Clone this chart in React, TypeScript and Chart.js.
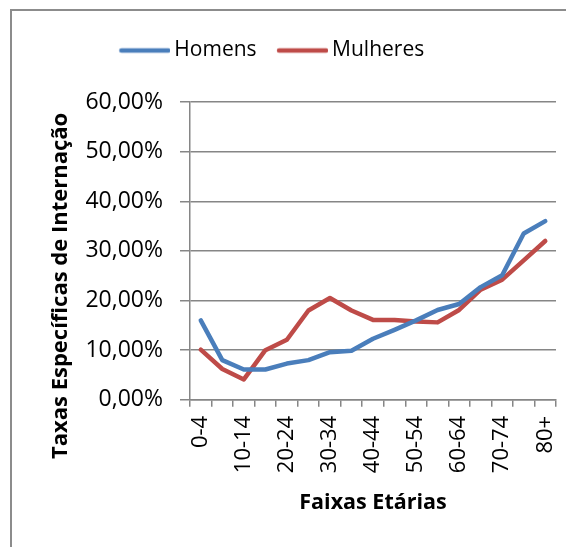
import React, { useEffect, useRef } from 'react';
import { Chart, registerables } from 'chart.js';

Chart.register(...registerables);

const categories = ['0-4', '5-9', '10-14', '15-19', '20-24', '25-29', '30-34', '35-39', '40-44', '45-49', '50-54', '55-59', '60-64', '65-69', '70-74', '75-79', '80+'];
const homens = [16.0, 8.0, 6.1, 6.1, 7.3, 8.0, 9.6, 9.9, 12.3, 14.1, 16.0, 18.1, 19.3, 22.7, 25.1, 33.5, 36.0];
const mulheres = [10.1, 6.2, 4.1, 10.0, 12.1, 18.0, 20.5, 18.0, 16.1, 16.1, 15.8, 15.6, 18.1, 22.2, 24.2, 28.1, 32.0];
const seriesNames = ['Homens', 'Mulheres'];
const seriesColors = ['#4A7EBB', '#BE4B48'];
const yMin = 0;
const yMax = 60;
const yStep = 10;
const yTitle = 'Taxas Específicas de Internação';
const xTitle = 'Faixas Etárias';

const FONT = '"Open Sans", "Noto Sans", sans-serif';
const GRID = '#868686';

function legendLine(color: string): HTMLCanvasElement {
  const c = document.createElement('canvas');
  c.width = 53;
  c.height = 8;
  const g = c.getContext('2d')!;
  g.strokeStyle = color;
  g.lineWidth = 4.5;
  g.lineCap = 'round';
  g.beginPath();
  g.moveTo(4, 4);
  g.lineTo(51, 4);
  g.stroke();
  return c;
}

const layoutTweak = {
  id: 'layoutTweak',
  afterLayout(chart: any) {
    const lg = chart.legend;
    if (lg) {
      const dx = -8;
      const dy = -31;
      lg.left += dx;
      lg.right += dx;
      lg.top += dy;
      lg.bottom += dy;
    }
  },
  afterDraw(chart: any) {
    const { ctx, chartArea } = chart;
    ctx.save();
    ctx.translate(chartArea.left - 129, (chartArea.top + chartArea.bottom) / 2 + 35);
    ctx.rotate(-Math.PI / 2);
    ctx.font = `bold 22px ${FONT}`;
    ctx.fillStyle = '#000';
    ctx.textAlign = 'center';
    ctx.textBaseline = 'middle';
    ctx.fillText(yTitle, 0, 0);
    ctx.restore();
  },
};

export default function App() {
  const ref = useRef<HTMLCanvasElement>(null);
  useEffect(() => {
    if (!ref.current) return;
    const chart = new Chart(ref.current, {
      type: 'line',
      data: {
        labels: categories,
        datasets: [homens, mulheres].map((d, i) => ({
          label: seriesNames[i],
          data: d,
          borderColor: seriesColors[i],
          backgroundColor: seriesColors[i],
          borderWidth: 4.5,
          borderCapStyle: 'round',
          borderJoinStyle: 'round',
          pointRadius: 0,
          pointStyle: legendLine(seriesColors[i]),
          tension: 0,
        })),
      },
      options: {
        responsive: false,
        animation: false,
        layout: { padding: { left: 0, right: 18, top: 38, bottom: 31 } },
        plugins: {
          legend: {
            position: 'top',
            labels: {
              usePointStyle: true,
              pointStyleWidth: 40,
              boxHeight: 21,
              padding: 25,
              color: '#000',
              font: { family: FONT, size: 21 },
            },
          },
          tooltip: { enabled: false },
        },
        scales: {
          x: {
            offset: true,
            afterFit: (s: any) => {
              s.paddingRight = 0;
              s.paddingLeft = 0;
            },
            grid: {
              display: true,
              drawOnChartArea: false,
              drawTicks: true,
              tickLength: 7,
              offset: true,
              color: GRID,
              lineWidth: 1.5,
            },
            border: { display: true, color: GRID, width: 1.5 },
            ticks: {
              autoSkip: false,
              minRotation: 90,
              maxRotation: 90,
              padding: 9,
              color: '#000',
              font: { family: FONT, size: 22 },
              callback: (_v: any, i: number) => (i % 2 === 0 ? categories[i] : ''),
            },
            title: {
              display: true,
              text: xTitle,
              color: '#000',
              font: { family: FONT, size: 21.5, weight: 'bold' },
              padding: { top: 8, bottom: 0 },
            },
          },
          y: {
            min: yMin,
            max: yMax,
            afterFit: (s: any) => {
              s.width = 182;
            },
            grid: {
              color: GRID,
              lineWidth: 1.5,
              tickLength: 10,
              drawTicks: true,
            },
            border: { display: true, color: GRID, width: 1.5 },
            ticks: {
              stepSize: yStep,
              padding: 17,
              color: '#000',
              font: { family: FONT, size: 23 },
              callback: (v: any) => Number(v).toFixed(2).replace('.', ',') + '%',
            },
          },
        },
      },
      plugins: [layoutTweak],
    });
    return () => chart.destroy();
  }, []);

  return (
    <div style={{ position: 'relative', width: 566, height: 539, overflow: 'hidden' }}>
      <canvas ref={ref} width={566} height={539} style={{ display: 'block' }} />
      <div
        style={{
          position: 'absolute',
          left: 2,
          top: 1,
          width: 700,
          height: 700,
          borderLeft: '2px solid #8c8c8c',
          borderTop: '2px solid #8c8c8c',
          pointerEvents: 'none',
        }}
      />
    </div>
  );
}
